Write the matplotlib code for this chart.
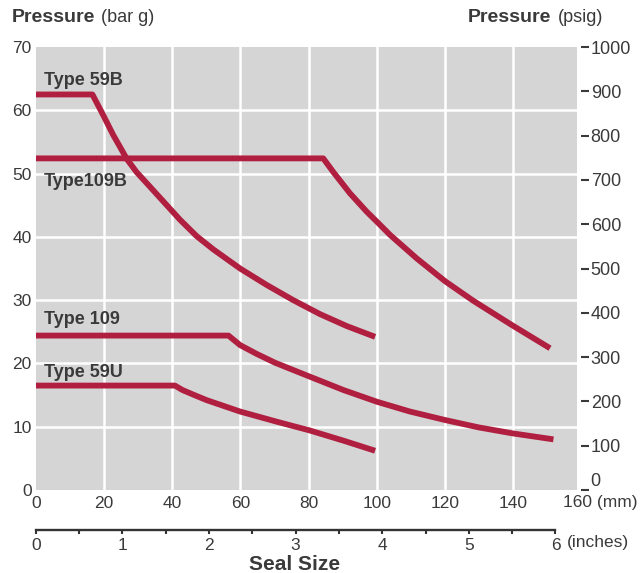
import numpy as np
import matplotlib.pyplot as plt

plt.rcParams['font.family'] = ['Liberation Sans', 'DejaVu Sans']

# seal size (mm) vs. max pressure (bar g)
size_59b = [0, 16.6, 19.8, 22.7, 26.7, 29.6, 32.5, 37.4, 42.3, 47.2, 52.1,
            59.9, 67.7, 75.5, 83.3, 91.2, 99.5]
bar_59b = [62.5, 62.5, 59.2, 56.1, 52.3, 50.2, 48.5, 45.6, 42.7, 40.1, 38.0,
           35.0, 32.4, 30.0, 27.8, 25.9, 24.2]

size_109b = [0, 84.3, 87.3, 92.1, 97.0, 100.2, 103.9, 111.7, 120.0, 128.3,
             139.8, 150.8]
bar_109b = [52.4, 52.4, 50.2, 46.9, 44.0, 42.3, 40.3, 36.6, 33.0, 29.9,
            26.0, 22.4]

size_109 = [0, 56.5, 59.9, 64.8, 70.2, 80.4, 90.2, 100.0, 109.7, 120.0,
            129.8, 139.8, 151.8]
bar_109 = [24.4, 24.4, 22.9, 21.5, 20.1, 17.9, 15.8, 13.95, 12.4, 11.06,
           9.9, 8.95, 8.0]

size_59u = [0, 40.8, 43.0, 46.5, 50.1, 59.9, 70.6, 80.4, 90.2, 99.5]
bar_59u = [16.5, 16.5, 15.8, 15.0, 14.2, 12.4, 10.8, 9.4, 7.8, 6.2]

series = [('Type 59B', size_59b, bar_59b),
          ('Type109B', size_109b, bar_109b),
          ('Type 109', size_109, bar_109),
          ('Type 59U', size_59u, bar_59u)]
label_pos = {'Type 59B': 64.7, 'Type109B': 48.7, 'Type 109': 27.0, 'Type 59U': 18.6}

mm_ticks = [0, 20, 40, 60, 80, 100, 120, 140, 160]
bar_ticks = [0, 10, 20, 30, 40, 50, 60, 70]
psig_ticks = [0, 100, 200, 300, 400, 500, 600, 700, 800, 900, 1000]
inch_ticks = [0, 1, 2, 3, 4, 5, 6]

txt = '#3a3a3a'
red = '#b01f40'
gray = '#d5d5d6'

fig = plt.figure(figsize=(6.43, 5.73), dpi=100)
W, H = 643, 573
x0, x1 = 35.8, 581.4
y0, y1 = 490, 47
ax = fig.add_axes([x0 / W, 1 - y0 / H, (x1 - x0) / W, (y0 - y1) / H])
ax.set_xlim(0, 160)
ax.set_ylim(0, 70)
ax.axvspan(-0.2, 158.8, color=gray, lw=0, zorder=0)
for s in ax.spines.values():
    s.set_visible(False)
ax.set_xticks(mm_ticks)
ax.set_xticklabels([str(t) for t in mm_ticks[:-1]] + [''])
ax.set_yticks(bar_ticks)
ax.tick_params(axis='both', length=0, labelsize=12.5, colors=txt)
ax.tick_params(axis='y', pad=3)
ax.tick_params(axis='x', pad=4.5)
for v in mm_ticks[1:-1]:
    ax.axvline(v, color='white', lw=1.8, zorder=1)
for v in bar_ticks[1:-1]:
    ax.axhline(v, color='white', lw=1.8, zorder=1)

for name, xs, ys in series:
    ax.plot(xs, ys, color=red, lw=4.2, solid_capstyle='butt', zorder=3)
    ax.text(2.4, label_pos[name], name, fontsize=13, fontweight='bold',
            color=txt, va='center', ha='left', zorder=4)

fig.text(563 / W, 1 - 503 / H, '160 (mm)', fontsize=12.5, color=txt, va='center')

# right-hand psig scale
ax2 = ax.twinx()
ax2.set_ylim(0, 1000)
for s in ax2.spines.values():
    s.set_visible(False)
ax2.set_yticks(psig_ticks)
ax2.tick_params(axis='y', direction='out', length=5.5, width=1.5, pad=1.2,
                labelsize=13, colors=txt)
for lab in ax2.get_yticklabels():
    if lab.get_text() == '0':
        lab.set_va('bottom')

ty = 1 - 17 / H
fig.text(12 / W, ty, 'Pressure', fontsize=14, color=txt, va='center',
         fontweight='bold')
fig.text(101 / W, ty, '(bar g)', fontsize=13, color=txt, va='center')
fig.text(468 / W, ty, 'Pressure', fontsize=14, color=txt, va='center',
         fontweight='bold')
fig.text(558 / W, ty, '(psig)', fontsize=13, color=txt, va='center')

# inch scale below
x6 = x0 + 6 * 25.4 * (x1 - x0) / 160
ax3 = fig.add_axes([x0 / W, 1 - 529.5 / H, (x6 - x0) / W, 0.0001])
ax3.set_xlim(0, 6)
for k in ['top', 'left', 'right']:
    ax3.spines[k].set_visible(False)
ax3.spines['bottom'].set_linewidth(1.7)
ax3.spines['bottom'].set_color('#333333')
ax3.set_yticks([])
ax3.set_xticks(inch_ticks)
ax3.set_xticks(np.arange(0.5, 6, 1), minor=True)
ax3.tick_params(axis='x', which='both', direction='out', length=3, width=1.5,
                color='#333333', labelsize=12.5, labelcolor=txt, pad=3)
fig.text(567 / W, 1 - 542 / H, '(inches)', fontsize=12.5, color=txt, va='center')
fig.text(295 / W, 1 - 564 / H, 'Seal Size', fontsize=15, fontweight='bold',
         color=txt, ha='center', va='center')

fig.savefig('out.png', dpi=100)
